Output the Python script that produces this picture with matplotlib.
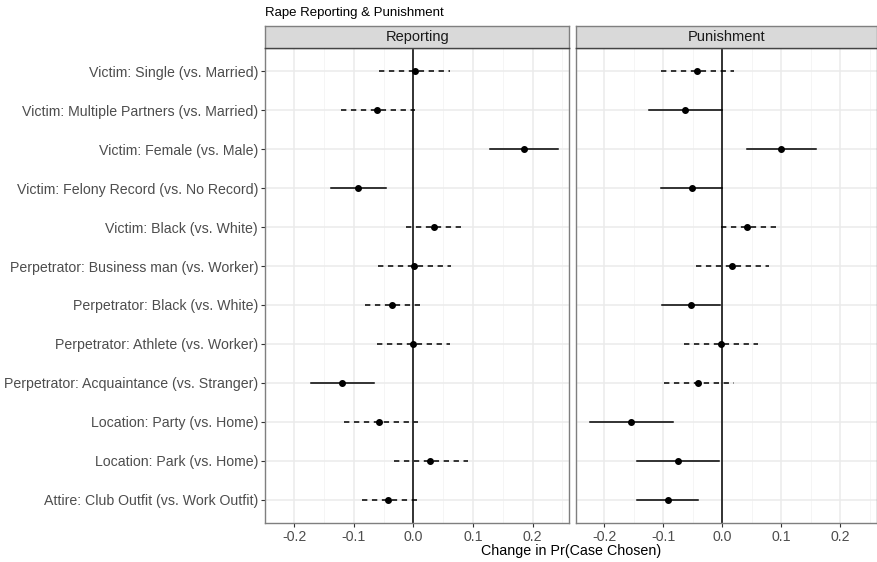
import matplotlib.pyplot as plt
from matplotlib.ticker import MultipleLocator

plt.rcParams['font.family'] = ['Liberation Sans', 'DejaVu Sans']

labels = [
    "Victim: Single (vs. Married)",
    "Victim: Multiple Partners (vs. Married)",
    "Victim: Female (vs. Male)",
    "Victim: Felony Record (vs. No Record)",
    "Victim: Black (vs. White)",
    "Perpetrator: Business man (vs. Worker)",
    "Perpetrator: Black (vs. White)",
    "Perpetrator: Athlete (vs. Worker)",
    "Perpetrator: Acquaintance (vs. Stranger)",
    "Location: Party (vs. Home)",
    "Location: Park (vs. Home)",
    "Attire: Club Outfit (vs. Work Outfit)",
]

# Reporting
rep_est = [0.002, -0.061, 0.185, -0.093, 0.034, 0.001, -0.036, 0.000, -0.119, -0.058, 0.028, -0.042]
rep_lo = [-0.057, -0.121, 0.129, -0.139, -0.012, -0.060, -0.081, -0.061, -0.171, -0.117, -0.033, -0.087]
rep_hi = [0.062, 0.002, 0.242, -0.046, 0.081, 0.063, 0.014, 0.062, -0.066, 0.007, 0.092, 0.008]
rep_sig = [False, False, True, True, False, False, False, False, True, False, False, False]

# Punishment
pun_est = [-0.043, -0.063, 0.099, -0.052, 0.042, 0.016, -0.054, -0.003, -0.041, -0.155, -0.076, -0.093]
pun_lo = [-0.104, -0.125, 0.042, -0.104, -0.002, -0.044, -0.103, -0.065, -0.099, -0.225, -0.145, -0.144]
pun_hi = [0.020, 0.000, 0.158, 0.000, 0.092, 0.079, -0.004, 0.060, 0.020, -0.084, -0.006, -0.042]
pun_sig = [False, True, True, True, False, False, True, False, False, True, True, True]

xticks = [-0.2, -0.1, 0.0, 0.1, 0.2]
xticklabels = ['-0.2', '-0.1', '0.0', '0.1', '0.2']

W, H = 878, 562
fig = plt.figure(figsize=(W / 100, H / 100), dpi=100)

def box(x0, y0, x1, y1):
    return [x0 / W, 1 - y1 / H, (x1 - x0) / W, (y1 - y0) / H]

panels = [
    ("Reporting", rep_est, rep_lo, rep_hi, rep_sig, (265, 569.5)),
    ("Punishment", pun_est, pun_lo, pun_hi, pun_sig, (575.5, 877)),
]

ypos = list(range(len(labels), 0, -1))
border = '#7F7F7F'

for k, (name, est, lo, hi, sig, (x0, x1)) in enumerate(panels):
    ax = fig.add_axes(box(x0, 48, x1, 523))
    ax.set_xlim(-0.249, 0.262)
    ax.set_ylim(0.4, len(labels) + 0.6)
    ax.set_xticks(xticks)
    ax.set_xticklabels(xticklabels)
    ax.xaxis.set_minor_locator(MultipleLocator(0.05))
    ax.set_yticks(ypos)
    ax.grid(True, which='major', color='#EBEBEB', lw=1.1, zorder=0)
    ax.grid(True, which='minor', axis='x', color='#F4F4F4', lw=0.6, zorder=0)
    ax.set_axisbelow(True)
    for s in ax.spines.values():
        s.set_color(border)
        s.set_linewidth(1.0)
    ax.tick_params(axis='both', which='major', length=3, color='#333333',
                   labelcolor='#4D4D4D', pad=2)
    ax.tick_params(axis='x', labelsize=10.2)
    ax.tick_params(axis='y', labelsize=10.2)
    ax.tick_params(axis='both', which='minor', length=0)
    if k == 0:
        ax.set_yticklabels(labels)
    else:
        ax.set_yticklabels([])
        ax.tick_params(axis='y', length=0)

    ax.axvline(0, color='black', lw=1.1, zorder=2)
    for y, e, l, h, s in zip(ypos, est, lo, hi, sig):
        ax.plot([l, h], [y, y], color='black', lw=1.1,
                linestyle='-' if s else (0, (3.5, 3)), zorder=3)
        ax.plot(e, y, 'o', color='black', ms=4, zorder=4)

    sax = fig.add_axes(box(x0, 26, x1, 48))
    sax.set_facecolor('#D9D9D9')
    sax.set_xticks([])
    sax.set_yticks([])
    for s in sax.spines.values():
        s.set_color(border)
        s.set_linewidth(1.0)
    sax.spines['bottom'].set_color('#444444')
    sax.text(0.5, 0.5, name, ha='center', va='center', fontsize=10.5,
             color='#1A1A1A', transform=sax.transAxes)

fig.text(265 / W, 1 - 13 / H, "Rape Reporting & Punishment", ha='left', va='center',
         fontsize=9.5, color='black')
fig.text(571 / W, 1 - 551 / H, "Change in Pr(Case Chosen)", ha='center', va='center',
         fontsize=10.3, color='black')

fig.savefig('out.png', dpi=100)
